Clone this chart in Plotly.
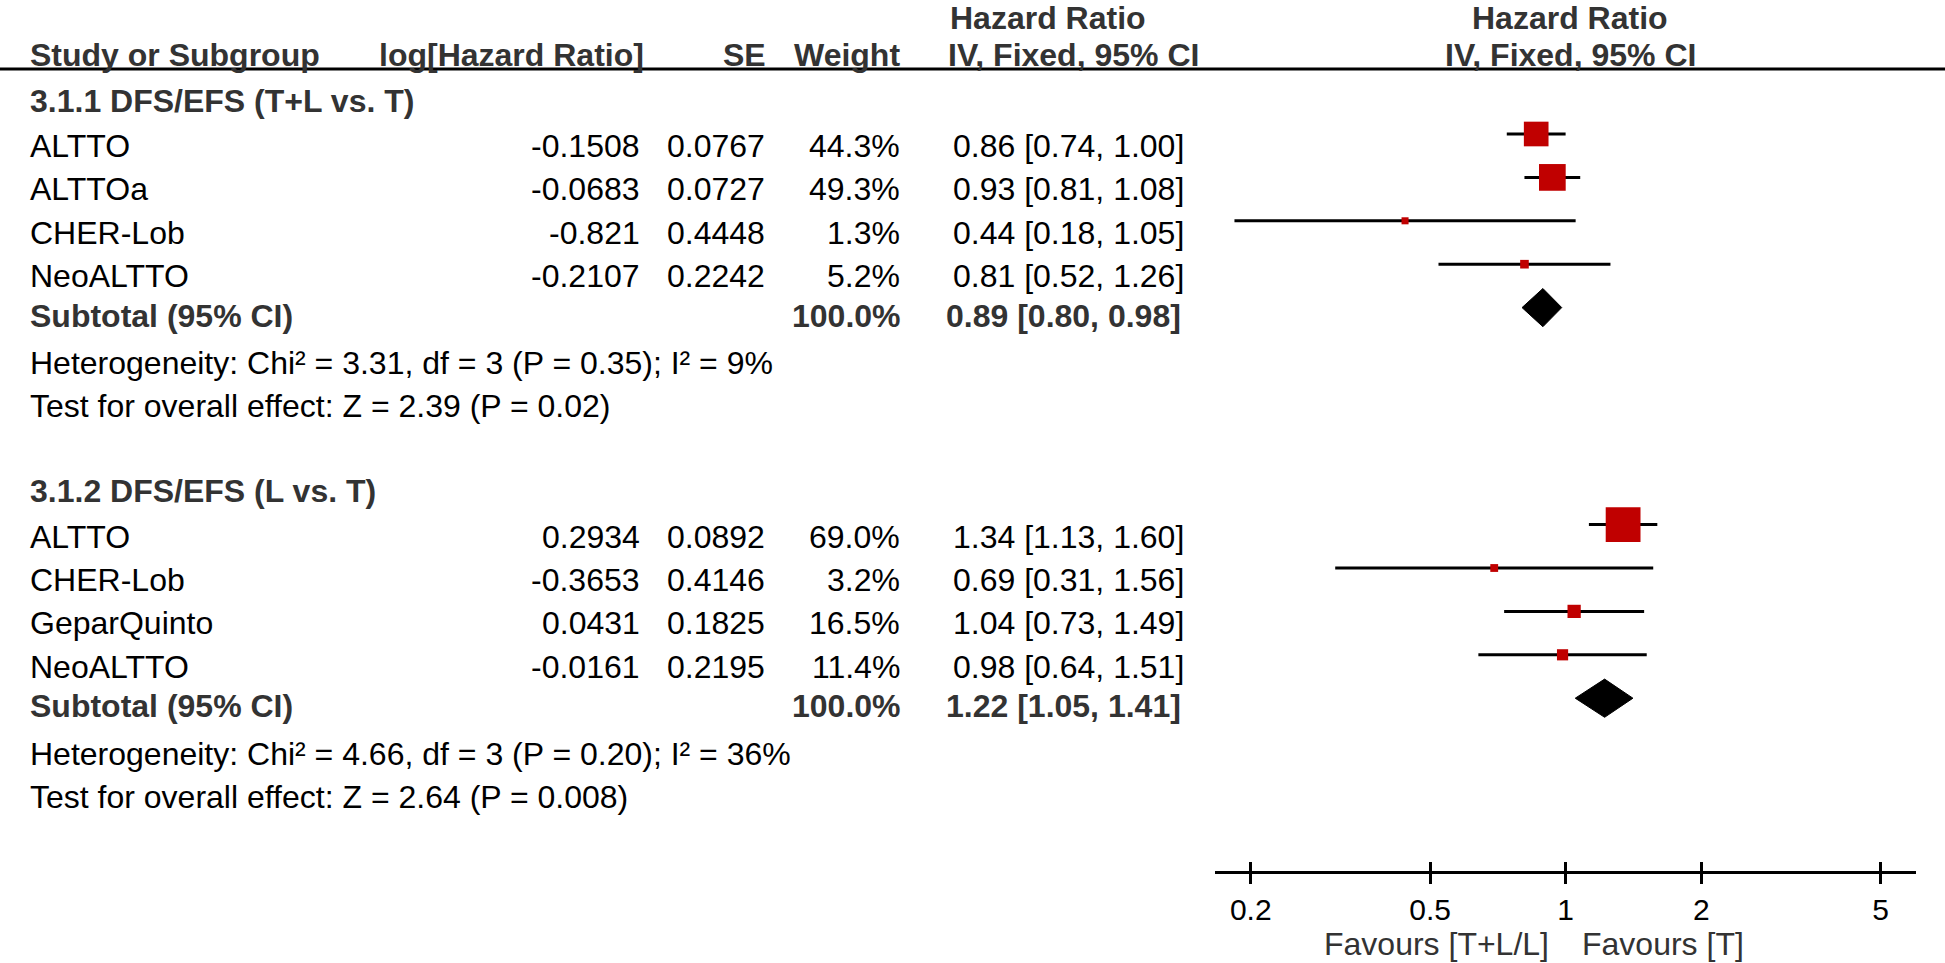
import math
import plotly.graph_objects as go

# ---------------- data ----------------
group_titles = ["3.1.1 DFS/EFS (T+L vs. T)", "3.1.2 DFS/EFS (L vs. T)"]

g1_studies = ["ALTTO", "ALTTOa", "CHER-Lob", "NeoALTTO"]
g1_log_hr = [-0.1508, -0.0683, -0.821, -0.2107]
g1_se = [0.0767, 0.0727, 0.4448, 0.2242]
g1_weight = [44.3, 49.3, 1.3, 5.2]
g1_subtotal_weight = 100.0
g1_subtotal = [0.89, 0.80, 0.98]  # HR, lower, upper
g1_heterogeneity = "Heterogeneity: Chi² = 3.31, df = 3 (P = 0.35); I² = 9%"
g1_overall = "Test for overall effect: Z = 2.39 (P = 0.02)"

g2_studies = ["ALTTO", "CHER-Lob", "GeparQuinto", "NeoALTTO"]
g2_log_hr = [0.2934, -0.3653, 0.0431, -0.0161]
g2_se = [0.0892, 0.4146, 0.1825, 0.2195]
g2_weight = [69.0, 3.2, 16.5, 11.4]
g2_subtotal_weight = 100.0
g2_subtotal = [1.22, 1.05, 1.41]
g2_heterogeneity = "Heterogeneity: Chi² = 4.66, df = 3 (P = 0.20); I² = 36%"
g2_overall = "Test for overall effect: Z = 2.64 (P = 0.008)"

tick_vals = [0.2, 0.5, 1, 2, 5]
tick_text = ["0.2", "0.5", "1", "2", "5"]
x_limits = [1 / 6, 6]
null_effect = 1
favours_left = "Favours [T+L/L]"
favours_right = "Favours [T]"

col_headers = ["Study or Subgroup", "log[Hazard Ratio]", "SE", "Weight"]
effect_title = "Hazard Ratio"
effect_method = "IV, Fixed, 95% CI"

groups = [
    dict(title=group_titles[0], studies=g1_studies, log_hr=g1_log_hr, se=g1_se,
         weight=g1_weight, sub_w=g1_subtotal_weight, sub=g1_subtotal,
         het=g1_heterogeneity, overall=g1_overall),
    dict(title=group_titles[1], studies=g2_studies, log_hr=g2_log_hr, se=g2_se,
         weight=g2_weight, sub_w=g2_subtotal_weight, sub=g2_subtotal,
         het=g2_heterogeneity, overall=g2_overall),
]

# ---------------- layout constants ----------------
W, H = 1945, 963
FONT = "Liberation Sans, Arial, Helvetica, sans-serif"
DARK = "#333333"
RED = "#c00000"
FS = 32

ROW0_PX = 90.6      # pixel of row 0
ROW_PX = 43.4       # pixel per row
Y_TOP = (0 - ROW0_PX) / ROW_PX
Y_BOT = (H - ROW0_PX) / ROW_PX

TITLE_ROW = (18 - ROW0_PX) / ROW_PX
HEAD_ROW = (55 - ROW0_PX) / ROW_PX
RULE_ROW = -0.5
AXIS_ROW = 18
FAV_ROW = (944 - ROW0_PX) / ROW_PX

X_STUDY, X_LOGHR, X_SE, X_W, X_CI = 28, 642, 767, 902, 1186
X_HEAD_LOG = 646
X_HEAD_EFF = 946
X_PLOT_HEAD = 1570
PLOT_LEFT_PX = 1215.1
PLOT_RIGHT_PX = 1916.3

annotations = []


def ann(text, xpx, row, anchor, bold=False, color="black", yshift=0, size=FS):
    annotations.append(dict(
        text=f"<b>{text}</b>" if bold else text,
        x=xpx / W, xref="paper", y=row, yref="y",
        xanchor=anchor, yanchor="middle", yshift=yshift, showarrow=False,
        font=dict(family=FONT, size=size, color=color),
    ))


# headers
ann(col_headers[0], X_STUDY, HEAD_ROW, "left", bold=True, color=DARK)
ann(col_headers[1], X_HEAD_LOG, HEAD_ROW, "right", bold=True, color=DARK)
ann(col_headers[2], X_SE + 1, HEAD_ROW, "right", bold=True, color=DARK)
ann(col_headers[3], X_W, HEAD_ROW, "right", bold=True, color=DARK)
ann(effect_title, X_HEAD_EFF + 2, TITLE_ROW, "left", bold=True, color=DARK)
ann(effect_method, X_HEAD_EFF, HEAD_ROW, "left", bold=True, color=DARK)
ann(effect_title, X_PLOT_HEAD, TITLE_ROW, "center", bold=True, color=DARK)
ann(effect_method, X_PLOT_HEAD, HEAD_ROW, "center", bold=True, color=DARK)

line_x, line_y = [], []
sq_x, sq_y, sq_s = [], [], []
diamonds = []

row = 0
for g in groups:
    ann(g["title"], X_STUDY, row, "left", bold=True, color=DARK, yshift=-10)
    row += 1
    for name, lh, se, w in zip(g["studies"], g["log_hr"], g["se"], g["weight"]):
        hr = math.exp(lh)
        lo = math.exp(lh - 1.96 * se)
        hi = math.exp(lh + 1.96 * se)
        line_x += [lo, hi, None]
        line_y += [row, row, None]
        sq_x.append(hr)
        sq_y.append(row)
        sq_s.append(6.5 + 0.41 * w)
        ann(name, X_STUDY, row, "left", yshift=-12)
        ann(str(lh), X_LOGHR, row, "right", yshift=-12)
        ann(str(se), X_SE, row, "right", yshift=-12)
        ann(f"{w:.1f}%", X_W, row, "right", yshift=-12)
        ann(f"{hr:.2f} [{lo:.2f}, {hi:.2f}]", X_CI, row, "right", yshift=-12)
        row += 1
    hr, lo, hi = g["sub"]
    diamonds.append((row, hr, lo, hi))
    ann("Subtotal (95% CI)", X_STUDY, row, "left", bold=True, color=DARK, yshift=-8)
    ann(f"{g['sub_w']:.1f}%", X_W + 1, row, "right", bold=True, color=DARK, yshift=-8)
    ann(f"{hr:.2f} [{lo:.2f}, {hi:.2f}]", X_CI - 3, row, "right", bold=True, color=DARK, yshift=-8)
    row += 1
    ann(g["het"], X_STUDY, row, "left", yshift=-12)
    row += 1
    ann(g["overall"], X_STUDY, row, "left", yshift=-12)
    row += 2

fig = go.Figure()

# confidence interval lines
fig.add_trace(go.Scatter(
    x=line_x, y=line_y, mode="lines",
    line=dict(color="black", width=3), hoverinfo="skip", showlegend=False,
))
# study squares
fig.add_trace(go.Scatter(
    x=sq_x, y=sq_y, mode="markers",
    marker=dict(symbol="square", size=sq_s, color=RED, opacity=1, line=dict(width=0)),
    opacity=1, hoverinfo="skip", showlegend=False,
))
# subtotal diamonds
DH = 0.44
for r, hr, lo, hi in diamonds:
    fig.add_trace(go.Scatter(
        x=[lo, hr, hi, hr, lo], y=[r, r - DH, r, r + DH, r],
        mode="lines", fill="toself", fillcolor="black",
        line=dict(color="black", width=1), hoverinfo="skip", showlegend=False,
    ))
# helper trace for the overlay tick axis
fig.add_trace(go.Scatter(x=[], y=[], xaxis="x2", yaxis="y", showlegend=False))

# favours labels
for txt, anchor, shift in [(favours_left, "right", -15), (favours_right, "left", 14)]:
    annotations.append(dict(
        text=txt, x=math.log10(null_effect), xref="x", y=FAV_ROW, yref="y",
        xanchor=anchor, yanchor="middle", xshift=shift, showarrow=False,
        font=dict(family=FONT, size=FS, color=DARK),
    ))

shapes = [
    # header rule across full width
    dict(type="line", xref="paper", x0=0, x1=1, yref="y", y0=RULE_ROW, y1=RULE_ROW,
         line=dict(color="black", width=3)),
    # line of no effect
    dict(type="line", xref="x", x0=math.log10(null_effect), x1=math.log10(null_effect),
         yref="y", y0=RULE_ROW, y1=AXIS_ROW, line=dict(color=DARK, width=2.5)),
]

axis_pos = (Y_BOT - AXIS_ROW) / (Y_BOT - Y_TOP)
xr = [math.log10(x_limits[0]), math.log10(x_limits[1])]
dom = [PLOT_LEFT_PX / W, PLOT_RIGHT_PX / W]

fig.update_layout(
    width=W, height=H,
    margin=dict(l=0, r=0, t=0, b=0),
    paper_bgcolor="white", plot_bgcolor="white",
    showlegend=False,
    annotations=annotations,
    shapes=shapes,
    xaxis=dict(
        type="log", range=xr, domain=dom, anchor="free", position=axis_pos,
        tickvals=tick_vals, ticktext=tick_text,
        ticks="outside", ticklen=10, tickwidth=3, tickcolor="black",
        showline=True, linewidth=3, linecolor="black",
        showgrid=False, zeroline=False, ticklabelstandoff=0,
        tickfont=dict(family=FONT, size=30, color="black"),
    ),
    xaxis2=dict(
        type="log", range=xr, domain=dom, anchor="free", position=axis_pos,
        overlaying="x", tickvals=tick_vals,
        ticks="inside", ticklen=10, tickwidth=3, tickcolor="black",
        showticklabels=False, showline=False, showgrid=False, zeroline=False,
    ),
    yaxis=dict(range=[Y_BOT, Y_TOP], domain=[0, 1], visible=False,
               showgrid=False, zeroline=False),
)

fig.write_html("out.html", config={"displayModeBar": False, "staticPlot": True},
               post_script="document.body.style.margin='0';")
